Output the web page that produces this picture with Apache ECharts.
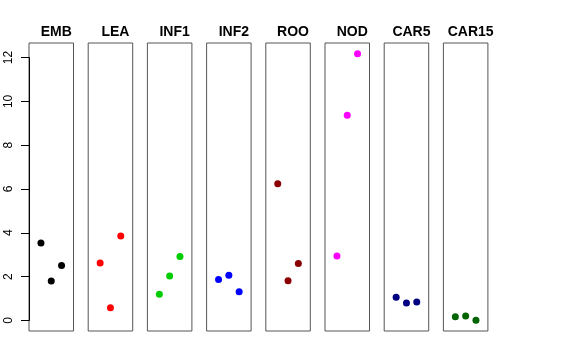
<!DOCTYPE html>
<html><head><meta charset="utf-8">
<script src="https://cdn.jsdelivr.net/npm/echarts@6/dist/echarts.min.js"></script>
<style>html,body{margin:0;padding:0;background:#fff}#c{width:576px;height:360px}</style>
</head><body><div id="c"></div>
<script>
var categories = ['EMB','LEA','INF1','INF2','ROO','NOD','CAR5','CAR15'];
var colors = ['#000000','#FF0000','#00CD00','#0000FF','#8B0000','#FF00FF','#000080','#006400'];
var EMB = [3.53, 1.80, 2.51];
var LEA = [2.62, 0.58, 3.85];
var INF1 = [1.19, 2.02, 2.91];
var INF2 = [1.86, 2.06, 1.31];
var ROO = [6.24, 1.81, 2.60];
var NOD = [2.94, 9.37, 12.18];
var CAR5 = [1.05, 0.79, 0.84];
var CAR15 = [0.16, 0.20, 0.00];
var seriesValues = [EMB, LEA, INF1, INF2, ROO, NOD, CAR5, CAR15];
var yTicks = [0, 2, 4, 6, 8, 10, 12];

(function(){
var chart = echarts.init(document.getElementById('c'), null, {renderer:'canvas'});
var grids = [], xAxes = [], yAxes = [], series = [], titles = [];
var left0 = 29, step = 59.2, w = 44.5, gTop = 43, h = 288;
var yMin = -0.487, yMax = 12.667;
categories.forEach(function(cat, i){
  var l = left0 + i*step;
  grids.push({left:l, top:gTop, width:w, height:h, show:true, borderColor:'#555', borderWidth:1, backgroundColor:'transparent'});
  xAxes.push({type:'value', gridIndex:i, min:-0.16, max:4.16, show:false});
  yAxes.push({type:'value', gridIndex:i, min:yMin, max:yMax, show:false});
  series.push({type:'scatter', xAxisIndex:i, yAxisIndex:i, symbolSize:7,
    itemStyle:{color:colors[i], opacity:1},
    data: seriesValues[i].map(function(v,k){return [k+1, v];})});
  titles.push({text:cat, left:l + w/2, top:20, textAlign:'center',
    textStyle:{fontFamily:'Liberation Sans, Arial, sans-serif', fontSize:14, fontWeight:'bold', color:'#000'}});
});
var pxPerUnit = h/(yMax-yMin);
var axTop = gTop + (yMax-12)*pxPerUnit;
var axH = 12*pxPerUnit;
grids.push({left:left0, top:axTop, width:1, height:axH, show:false});
xAxes.push({type:'value', gridIndex:8, show:false, min:0, max:1});
yAxes.push({type:'value', gridIndex:8, min:0, max:12, interval:2, position:'left',
  axisLine:{show:true, lineStyle:{color:'#000', width:1}},
  axisTick:{show:true, length:8, lineStyle:{color:'#000'}},
  splitLine:{show:false},
  axisLabel:{show:true, rotate:90, margin:14, color:'#000', fontSize:12,
    fontFamily:'Liberation Sans, Arial, sans-serif',
    formatter:function(v){return yTicks.indexOf(v)>=0 ? String(v) : '';}}});

chart.setOption({
  animation:false,
  title:titles, grid:grids, xAxis:xAxes, yAxis:yAxes, series:series
});
})();
</script></body></html>
